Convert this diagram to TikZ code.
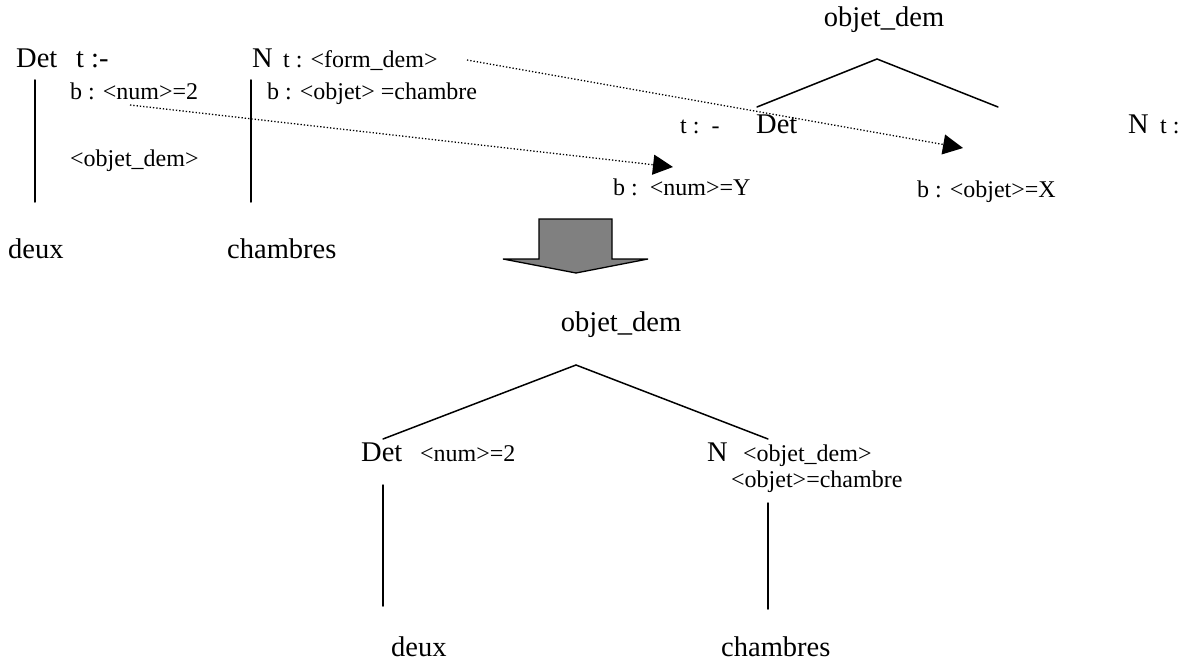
\documentclass[tikz,border=0pt]{standalone}
\usepackage{fontspec}
\setmainfont{Liberation Serif}
\usetikzlibrary{arrows.meta}
\tikzset{
  big/.style={inner sep=0pt, anchor=base west, font=\fontsize{28.5}{30}\selectfont},
  small/.style={inner sep=0pt, anchor=base west, font=\fontsize{24}{26}\selectfont},
  branch/.style={line width=1.5pt, line cap=round},
  link/.style={line width=1.3pt, dotted, -{Triangle[length=20pt,width=20pt]}},
  blockarrow/.style={fill=black!50, draw=black, line width=1.3pt, line join=miter}
}
\begin{document}
\begin{tikzpicture}[x=1pt,y=-1pt]
\useasboundingbox (0,0) rectangle (1193,663);
% ---------- top left ----------
\node[big] (detA) at (16,68) {Det};
\node[big] (detAt) at (76,68) {t :-};
\node[small] (detAb) at (70,100) {b : <num>=2};
\node[small] (detAo) at (70,167) {<objet\_dem>};
\coordinate (vA1) at (35,80); \coordinate (vA2) at (35,202);
\draw[branch] (vA1) -- (vA2);
\node[big] (deuxA) at (8,258) {deux};
\node[big] (nA) at (252,68) {N};
\node[small] (nAt) at (283,68) {t : <form\_dem>};
\node[small] (nAb) at (267,100) {b : <objet> =chambre};
\coordinate (vB1) at (251,80); \coordinate (vB2) at (251,202);
\draw[branch] (vB1) -- (vB2);
\node[big] (chA) at (227,258) {chambres};
% ---------- top right ----------
\node[big, anchor=base] (odA) at (884,27) {objet\_dem};
\coordinate (apA) at (877,59);
\coordinate (lA) at (757,107);
\coordinate (rA) at (998,107);
\draw[branch] (lA) -- (apA) -- (rA);
\node[small] (tdash) at (680,134) {t :\ \ -};
\node[big] (detB) at (756,134) {Det};
\node[big] (nB) at (1128,134) {N};
\node[small] (nBt) at (1160,134) {t :};
\node[small] (bnumY) at (613,196) {b :\ \ <num>=Y};
\node[small] (bobjX) at (917,197) {b : <objet>=X};
\coordinate (s1) at (467,60); \coordinate (t1) at (963,148);
\coordinate (s2) at (130,105); \coordinate (t2) at (673,167);
\draw[link] (s1) -- (t1);
\draw[link] (s2) -- (t2);
% ---------- block arrow ----------
\draw[blockarrow] (539,219) -- (612,219) -- (612,259) -- (648,259) -- (576,273) -- (503,259) -- (539,259) -- cycle;
% ---------- bottom tree ----------
\node[big, anchor=base] (odB) at (621,331) {objet\_dem};
\coordinate (apB) at (576,365);
\coordinate (lB) at (383,439);
\coordinate (rB) at (768,439);
\draw[branch] (lB) -- (apB) -- (rB);
\node[big] (detC) at (361,461) {Det};
\node[small] (numC) at (420,461) {<num>=2};
\node[big] (nC) at (707,461) {N};
\node[small] (odC) at (743,461) {<objet\_dem>};
\node[small] (obC) at (731,487) {<objet>=chambre};
\coordinate (vC1) at (383,485); \coordinate (vC2) at (383,606);
\draw[branch] (vC1) -- (vC2);
\coordinate (vD1) at (768,503); \coordinate (vD2) at (768,609);
\draw[branch] (vD1) -- (vD2);
\node[big] (deuxC) at (391,656) {deux};
\node[big] (chC) at (721,656) {chambres};
\end{tikzpicture}
\end{document}
